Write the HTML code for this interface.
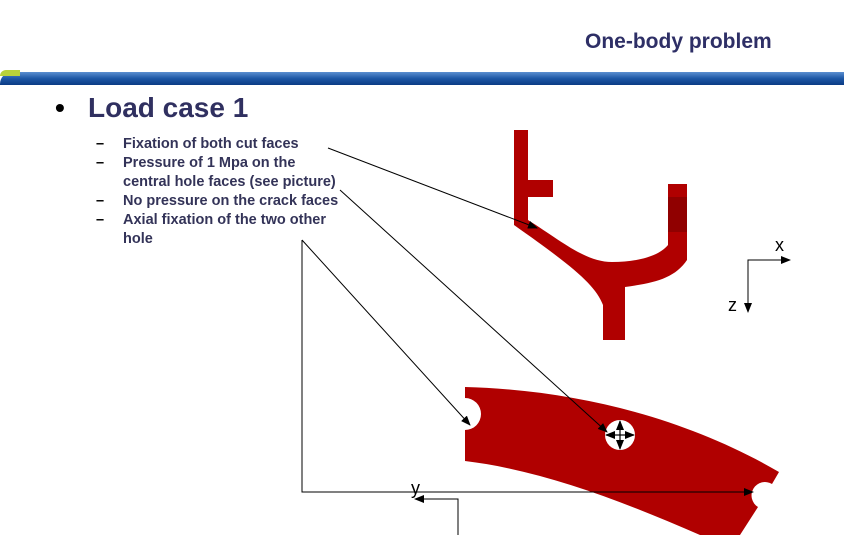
<!DOCTYPE html>
<html><head><meta charset="utf-8"><style>
body{margin:0;width:844px;height:535px;overflow:hidden;background:#fff;position:relative;font-family:"Liberation Sans",sans-serif}
.t{position:absolute;white-space:nowrap;color:#2f2f5a;font-weight:bold}
</style></head><body>
<div class="t" style="left:585px;top:30px;font-size:21px;color:#2e2f66">One-body problem</div>
<div style="position:absolute;left:0;top:72px;width:844px;height:13px;background:linear-gradient(#5b8fd0,#1d57a5 50%,#0b3b85);border-radius:12px 0 0 0"></div>
<div style="position:absolute;left:0;top:70px;width:20px;height:6px;background:#b8d23a;border-radius:10px 0 0 0"></div>
<div class="t" style="left:55px;top:92px;font-size:28px;color:#000">•</div>
<div class="t" style="left:88px;top:92px;font-size:28px;color:#303060">Load case 1</div>
<div class="t" style="left:96px;top:135px;font-size:14.5px;line-height:19px;color:#000">–<br>–<br><br>–<br>–</div>
<div class="t" style="left:123px;top:135px;font-size:14.5px;line-height:19px;color:#333358">Fixation of both cut faces<br>Pressure of 1 Mpa on the<br>central hole faces (see picture)<br>No pressure on the crack faces<br>Axial fixation of the two other<br>hole</div>
<svg width="844" height="535" style="position:absolute;left:0;top:0">
<defs><marker id="a" markerWidth="10" markerHeight="8" refX="9" refY="4" orient="auto" markerUnits="userSpaceOnUse"><path d="M0,0L10,4L0,8Z" fill="#000"/></marker></defs>
<g fill="#b00000">
<path d="M514,130H528V180H553V197H528V220C560,240 585,262 612,262C640,262 660,255 668,245V184H687V260C675,278 655,283 625,287V340H603V305C595,285 575,268 514,225Z"/>
<path d="M465,387C580,390 690,420 779,472L772,484A13,13 0 0 0 758,507L740,535H700C620,500 540,470 465,461V430A16,16 0 0 0 465,398Z"/>
</g>
<rect x="668" y="197" width="19" height="35" fill="#900000"/>
<circle cx="620" cy="435" r="15" fill="#fff"/>
<g stroke="#000" stroke-width="1.2" fill="none" marker-end="url(#a)">
<line x1="620" y1="435" x2="620" y2="421"/><line x1="620" y1="435" x2="620" y2="449"/>
<line x1="620" y1="435" x2="606" y2="435"/><line x1="620" y1="435" x2="634" y2="435"/>
</g>
<g stroke="#000" stroke-width="1" fill="none">
<line x1="328" y1="148" x2="537" y2="228" marker-end="url(#a)"/>
<line x1="340" y1="190" x2="607" y2="432" marker-end="url(#a)"/>
<line x1="302" y1="240" x2="470" y2="425" marker-end="url(#a)"/>
<polyline points="302,240 302,492 753,492" marker-end="url(#a)"/>
<polyline points="748,310 748,260 790,260" marker-end="url(#a)"/>
<line x1="748" y1="290" x2="748" y2="312" marker-end="url(#a)"/>
<polyline points="458,535 458,499 415,499" marker-end="url(#a)"/>
</g>
<text x="775" y="251" font-size="18" font-family="Liberation Sans">x</text>
<text x="728" y="311" font-size="18" font-family="Liberation Sans">z</text>
<text x="411" y="494" font-size="18" font-family="Liberation Sans">y</text>
</svg>
</body></html>
